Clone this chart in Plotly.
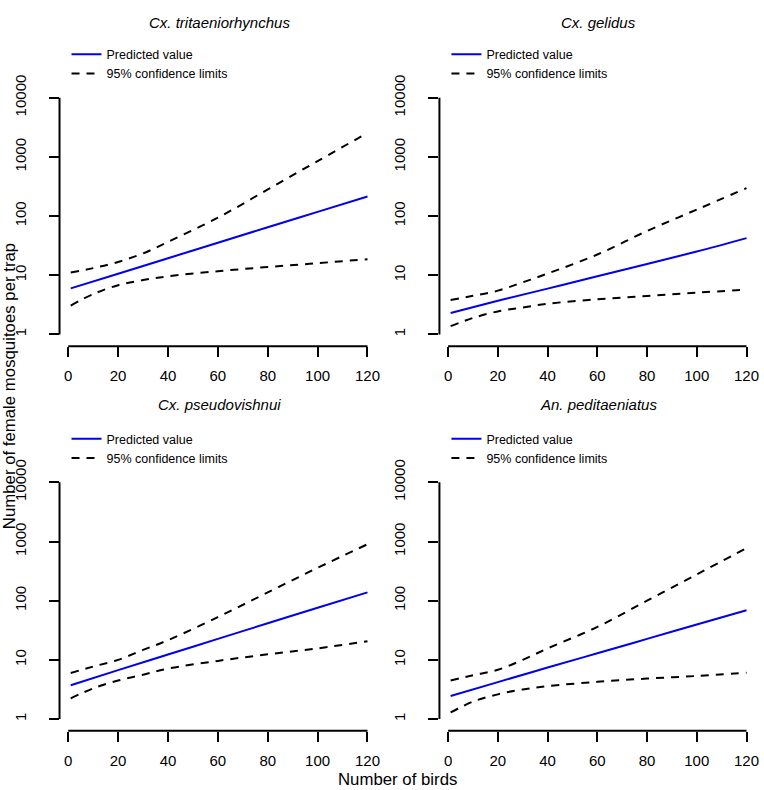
import plotly.graph_objects as go

W, H = 764, 790

species = ["Cx. tritaeniorhynchus", "Cx. gelidus", "Cx. pseudovishnui", "An. peditaeniatus"]

birds = [1, 20, 40, 60, 80, 100, 120]
birds_ci = [1, 10, 20, 30, 40, 60, 80, 100, 120]

pred_tri = [6.0, 10.6, 19.4, 35.5, 65.0, 118, 215]
upper_tri = [11.1, 13.2, 16.8, 23.4, 36.7, 94, 282, 851, 2545]
lower_tri = [3.08, 4.8, 6.8, 8.3, 9.6, 11.7, 13.8, 16.0, 18.7]

pred_gel = [2.3, 3.7, 5.95, 9.6, 15.5, 25.2, 42.5]
upper_gel = [3.83, 4.5, 5.5, 7.6, 10.7, 22.4, 56, 129, 297]
lower_gel = [1.38, 1.9, 2.45, 2.86, 3.3, 3.93, 4.47, 5.08, 5.7]

pred_pse = [3.73, 6.7, 12.3, 22.6, 41.5, 76, 138]
upper_pse = [6.0, 7.7, 10.0, 14.7, 21.5, 52.7, 138, 359, 900]
lower_pse = [2.24, 3.29, 4.47, 5.6, 7.1, 9.6, 12.4, 15.6, 20.7]

pred_ped = [2.45, 4.2, 7.4, 12.9, 22.6, 39.5, 69]
upper_ped = [4.47, 5.5, 6.8, 10.0, 15.6, 36, 100, 278, 774]
lower_ped = [1.29, 1.97, 2.61, 3.16, 3.59, 4.25, 4.82, 5.34, 6.07]

preds = [pred_tri, pred_gel, pred_pse, pred_ped]
uppers = [upper_tri, upper_gel, upper_pse, upper_ped]
lowers = [lower_tri, lower_gel, lower_pse, lower_ped]

x_ticks = [0, 20, 40, 60, 80, 100, 120]
y_ticks = [1, 10, 100, 1000, 10000]
y_ticklabels = ["1", "10", "100", "1000", "10000"]

legend_labels = ["Predicted value", "95% confidence limits"]
xlabel = "Number of birds"
ylabel = "Number of female mosquitoes per trap"

FONT = "Liberation Sans, Arial, sans-serif"
BLUE = "#0000F0"


def fx(px):
    return px / W


def fy(py):
    return (H - py) / H


panels = [
    (59.6, 379.2, 76, 340),
    (440.0, 758.7, 76, 340),
    (59.6, 379.2, 466, 730),
    (440.0, 758.7, 466, 730),
]
legend_left = [66.6, 447.0, 66.6, 447.0]
legend_top = [29.0, 29.0, 419.0, 419.0]
title_y = [12, 12, 399, 399]

fig = go.Figure()
layout = dict(
    width=W, height=H,
    margin=dict(l=0, r=0, t=0, b=0),
    paper_bgcolor="white", plot_bgcolor="white",
    font=dict(family=FONT, size=15, color="black"),
    showlegend=True,
)
annotations = []
shapes = []

for i in range(4):
    n = "" if i == 0 else str(i + 1)
    xa, ya = "x" + n, "y" + n
    leg = "legend" + n
    l, r, t, b = panels[i]
    layout["xaxis" + n] = dict(
        domain=[fx(l), fx(r)], range=[-3.5, 124.5], anchor=ya,
        showgrid=False, zeroline=False, showline=False,
        tickmode="array", tickvals=x_ticks, ticks="outside", ticklen=10,
        tickwidth=2, tickcolor="black", tickfont=dict(size=15),
        ticklabelstandoff=6,
    )
    layout["yaxis" + n] = dict(
        domain=[fy(b), fy(t)], type="log", range=[-0.2, 4.2], anchor=xa,
        showgrid=False, zeroline=False, showline=False,
        tickmode="array", tickvals=y_ticks, ticktext=y_ticklabels,
        ticks="outside", ticklen=10, tickwidth=2, tickcolor="black",
        tickangle=-90, tickfont=dict(size=15), ticklabelstandoff=17,
    )
    # R-style axis lines spanning the first to the last tick
    shapes.append(dict(type="line", xref=xa, yref=ya + " domain",
                       x0=x_ticks[0], x1=x_ticks[-1], y0=0, y1=0,
                       line=dict(color="black", width=2)))
    shapes.append(dict(type="line", xref=xa + " domain", yref=ya,
                       x0=0, x1=0, y0=y_ticks[0], y1=y_ticks[-1],
                       line=dict(color="black", width=2)))

    fig.add_trace(go.Scatter(x=birds, y=preds[i], mode="lines", xaxis=xa, yaxis=ya,
                             line=dict(color=BLUE, width=2, shape="spline"),
                             name=legend_labels[0], legend=leg, showlegend=True))
    fig.add_trace(go.Scatter(x=birds_ci, y=uppers[i], mode="lines", xaxis=xa, yaxis=ya,
                             line=dict(color="black", width=2, dash="8px,7px", shape="spline"),
                             name=legend_labels[1], legend=leg, showlegend=True))
    fig.add_trace(go.Scatter(x=birds_ci, y=lowers[i], mode="lines", xaxis=xa, yaxis=ya,
                             line=dict(color="black", width=2, dash="8px,7px", shape="spline"),
                             name=legend_labels[1], legend=leg, showlegend=False))

    layout[leg] = dict(
        x=fx(legend_left[i]), y=fy(legend_top[i]), xanchor="left", yanchor="top",
        bgcolor="rgba(0,0,0,0)", borderwidth=0,
        font=dict(family=FONT, size=12.5, color="black"),
        tracegroupgap=0,
    )

    annotations.append(dict(
        text="<i>" + species[i] + "</i>", xref="paper", yref="paper",
        x=fx((l + r) / 2), y=fy(title_y[i]),
        xanchor="center", yanchor="middle", showarrow=False,
        font=dict(family=FONT, size=15, color="black"),
    ))

annotations.append(dict(text=xlabel, xref="paper", yref="paper",
                        x=fx(398), y=fy(779), xanchor="center", yanchor="middle",
                        showarrow=False, font=dict(family=FONT, size=16.8)))
annotations.append(dict(text=ylabel, xref="paper", yref="paper",
                        x=fx(9.5), y=fy(380), xanchor="center", yanchor="middle",
                        textangle=-90, showarrow=False, font=dict(family=FONT, size=16.8)))

layout["annotations"] = annotations
layout["shapes"] = shapes
fig.update_layout(**layout)
fig.write_html(
    "out.html",
    config={"displayModeBar": False},
    post_script="document.body.style.margin='0px';document.body.style.overflow='hidden';",
)
